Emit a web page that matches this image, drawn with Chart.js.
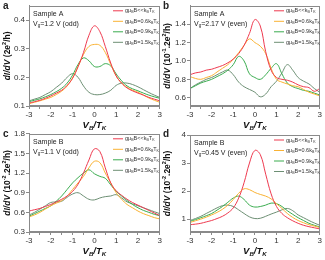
<!DOCTYPE html>
<html>
<head>
<meta charset="utf-8">
<script src="https://cdn.jsdelivr.net/npm/chart.js@4.4.1/dist/chart.umd.min.js"></script>
<style>
  html, body { margin: 0; padding: 0; background: #fff; }
  body { width: 325px; height: 260px; position: relative; overflow: hidden; }
  .panel { position: absolute; width: 163px; height: 130px; }
</style>
</head>
<body>
<div class="panel" style="left:0;top:0"><canvas id="ca"></canvas></div>
<div class="panel" style="left:160px;top:0"><canvas id="cb"></canvas></div>
<div class="panel" style="left:0;top:128px"><canvas id="cc"></canvas></div>
<div class="panel" style="left:160px;top:128px"><canvas id="cd"></canvas></div>
<script>
// bias voltage V_B/T_K, shared by every curve
const vb = [-3, -2.75, -2.5, -2.25, -2, -1.75, -1.5, -1.25, -1, -0.75, -0.5, -0.25, 0,
            0.25, 0.5, 0.75, 1, 1.25, 1.5, 1.75, 2, 2.25, 2.5, 2.75, 3];

// legend entries
const fields = ['<<', '=0.6', '=0.9', '=1.5'];
const colors = ['#ee3a4f', '#f9b234', '#3aac4f', '#6d8f74'];

// panel a: sample A, Vg = 1.2 V (odd), units 2e^2/h
const aLow  = [0.110,0.115,0.120,0.127,0.135,0.145,0.155,0.172,0.197,0.237,0.287,0.347,0.380,0.360,0.308,0.250,0.205,0.180,0.163,0.153,0.145,0.138,0.130,0.124,0.118];
const a06   = [0.108,0.113,0.118,0.124,0.130,0.140,0.152,0.170,0.198,0.238,0.280,0.308,0.315,0.312,0.287,0.245,0.205,0.180,0.165,0.155,0.148,0.138,0.128,0.120,0.113];
const a09   = [0.115,0.120,0.125,0.132,0.140,0.150,0.162,0.180,0.208,0.245,0.268,0.258,0.238,0.238,0.248,0.240,0.212,0.188,0.170,0.160,0.153,0.145,0.138,0.132,0.127];
const a15   = [0.118,0.124,0.130,0.140,0.150,0.165,0.180,0.200,0.213,0.200,0.170,0.148,0.140,0.140,0.145,0.155,0.172,0.180,0.180,0.175,0.167,0.157,0.147,0.138,0.130];

// panel b: sample A, Vg = 2.17 V (even), units 10^-1 2e^2/h
const bLow  = [0.85,0.87,0.88,0.90,0.91,0.93,0.95,0.98,1.02,1.08,1.17,1.30,1.45,1.38,1.10,0.90,0.82,0.80,0.79,0.77,0.74,0.72,0.71,0.67,0.70];
const b06   = [0.83,0.81,0.80,0.82,0.84,0.88,0.92,0.96,1.02,1.09,1.17,1.24,1.20,1.16,1.08,0.92,0.80,0.77,0.75,0.73,0.72,0.69,0.66,0.64,0.62];
const b09   = [0.70,0.73,0.76,0.78,0.80,0.83,0.86,0.90,0.96,1.05,1.00,0.86,0.82,0.80,0.85,0.92,0.97,0.86,0.76,0.72,0.70,0.68,0.67,0.65,0.63];
const b15   = [0.70,0.74,0.77,0.80,0.82,0.85,0.88,0.90,0.85,0.77,0.72,0.69,0.66,0.61,0.64,0.72,0.78,0.87,0.96,0.90,0.82,0.78,0.75,0.70,0.66];

// panel c: sample B, Vg = 1.1 V (odd), units 10^-2 2e^2/h
const cLow  = [0.62,0.64,0.66,0.69,0.72,0.76,0.80,0.85,0.92,1.03,1.20,1.40,1.57,1.53,1.28,1.05,0.93,0.86,0.80,0.75,0.71,0.67,0.63,0.59,0.55];
const c06   = [0.53,0.56,0.60,0.65,0.70,0.74,0.78,0.85,0.95,1.05,1.15,1.28,1.38,1.36,1.20,1.05,0.90,0.80,0.72,0.67,0.62,0.58,0.55,0.52,0.50];
const c09   = [0.54,0.58,0.62,0.66,0.70,0.77,0.85,0.95,1.05,1.13,1.20,1.25,1.19,1.15,1.12,1.02,0.92,0.85,0.78,0.72,0.67,0.63,0.60,0.57,0.55];
const c15   = [0.56,0.60,0.65,0.70,0.75,0.76,0.77,0.83,0.88,0.90,0.85,0.80,0.79,0.82,0.84,0.85,0.87,0.82,0.76,0.73,0.70,0.67,0.64,0.61,0.58];

// panel d: sample B, Vg = 0.45 V (even), units 10^-2 2e^2/h
const dLow  = [0.80,0.82,0.85,0.90,0.95,1.02,1.10,1.22,1.40,1.75,2.30,3.00,3.45,3.30,2.60,1.90,1.45,1.20,1.05,0.94,0.85,0.78,0.73,0.69,0.65];
const d06   = [0.88,0.94,1.00,1.07,1.15,1.24,1.35,1.50,1.70,1.92,2.08,2.05,1.95,1.88,1.82,1.72,1.55,1.38,1.20,1.06,0.95,0.87,0.80,0.75,0.70];
const d09   = [0.92,0.98,1.05,1.12,1.20,1.32,1.45,1.60,1.75,1.82,1.70,1.50,1.43,1.45,1.50,1.57,1.55,1.45,1.30,1.17,1.05,0.95,0.85,0.78,0.72];
const d15   = [0.95,1.02,1.10,1.20,1.30,1.40,1.48,1.50,1.45,1.33,1.20,1.08,1.02,1.03,1.10,1.18,1.25,1.33,1.38,1.30,1.15,1.05,0.95,0.86,0.78];

const FONT = '"Liberation Sans", Arial, sans-serif';

// draws a run of [text, kind, italic] pieces, kind: n | sub | sup
function rich(ctx, parts, x, y, size, weight, align) {
  const font = (s, it) => (it ? 'italic ' : '') + weight + ' ' + s + 'px ' + FONT;
  let w = 0;
  for (const [t, k, it] of parts) {
    ctx.font = font(k === 'n' ? size : size * 0.65, it);
    w += ctx.measureText(t).width;
  }
  let cx = align === 'center' ? x - w / 2 : x;
  for (const [t, k, it] of parts) {
    ctx.font = font(k === 'n' ? size : size * 0.65, it);
    const dy = k === 'sub' ? size * 0.3 : k === 'sup' ? -size * 0.4 : 0;
    ctx.fillText(t, cx, y + dy);
    cx += ctx.measureText(t).width;
  }
}

const deco = {
  id: 'deco',
  afterDraw(chart, args, o) {
    const ctx = chart.ctx, a = chart.chartArea;
    ctx.save();
    // box around the plot
    ctx.strokeStyle = '#8a8a8a';
    ctx.lineWidth = 1;
    ctx.strokeRect(Math.round(a.left) + 0.5, Math.round(a.top) + 0.5,
                   Math.round(a.right - a.left) - 1, Math.round(a.bottom - a.top) - 1);
    ctx.fillStyle = '#222';
    ctx.textBaseline = 'middle';
    // panel letter
    ctx.font = 'bold 10px ' + FONT;
    ctx.fillText(o.letter, 3, 6);
    // sample + gate voltage
    ctx.font = '7px ' + FONT;
    ctx.fillText(o.sample, a.left + 4, a.top + 8);
    rich(ctx, [['V', 'n'], ['g', 'sub'], ['=' + o.vg, 'n']], a.left + 4, a.top + 18, 7, 'normal', 'left');
    // legend
    fields.forEach((f, i) => {
      const y = a.top + 5 + i * 10.5;
      const x0 = a.left + 84;
      ctx.strokeStyle = colors[i];
      ctx.beginPath();
      ctx.moveTo(x0, y);
      ctx.lineTo(x0 + 10, y);
      ctx.stroke();
      ctx.fillStyle = '#333';
      rich(ctx, [['gμ', 'n'], ['B', 'sub'], ['B' + f + 'k', 'n'], ['B', 'sub'], ['T', 'n'], ['K', 'sub']],
           x0 + 12, y, 5.5, 'normal', 'left');
    });
    // y title
    ctx.fillStyle = '#111';
    ctx.save();
    ctx.translate(8, (a.top + a.bottom) / 2);
    ctx.rotate(-Math.PI / 2);
    rich(ctx, o.ytitle, 0, 0, 8.5, 'bold', 'center');
    ctx.restore();
    // x title
    rich(ctx, [['V', 'n', 1], ['B', 'sub', 1], ['/T', 'n', 1], ['K', 'sub', 1]],
         (a.left + a.right) / 2, a.bottom + 19, 9.5, 'bold', 'center');
    ctx.restore();
  }
};

function makePanel(id, series, ymin, ymax, yticks, opts) {
  const datasets = series.map((s, i) => ({
    data: s,
    borderColor: colors[i],
    borderWidth: 1,
    pointRadius: 0,
    tension: 0.4,
    fill: false
  }));
  new Chart(document.getElementById(id), {
    type: 'line',
    data: { labels: vb, datasets: datasets },
    options: {
      responsive: true,
      maintainAspectRatio: false,
      animation: false,
      layout: { padding: { top: opts.top, right: 2, left: 0, bottom: 0 } },
      plugins: { legend: { display: false }, tooltip: { enabled: false }, deco: opts },
      scales: {
        x: {
          type: 'linear',
          min: -3, max: 3,
          afterFit: s => { s.height = opts.xh; },
          afterBuildTicks: s => { s.ticks = [-3, -2.5, -2, -1.5, -1, -0.5, 0, 0.5, 1, 1.5, 2, 2.5, 3].map(v => ({ value: v })); },
          grid: { drawOnChartArea: false, tickLength: 3, color: '#8a8a8a' },
          border: { color: '#8a8a8a' },
          ticks: {
            padding: 1, color: '#333', font: { family: FONT, size: 8 },
            maxRotation: 0, minRotation: 0, autoSkip: false,
            callback: v => (Number.isInteger(v) ? v : '')
          }
        },
        y: {
          min: ymin, max: ymax,
          afterFit: s => { s.width = opts.yw; },
          afterBuildTicks: s => { s.ticks = yticks.map(v => ({ value: v })); },
          grid: { drawOnChartArea: false, tickLength: 3, color: '#8a8a8a' },
          border: { color: '#8a8a8a' },
          ticks: {
            padding: 1, color: '#333', font: { family: FONT, size: 8 },
            autoSkip: false,
            callback: v => v.toFixed(opts.dec)
          }
        }
      }
    },
    plugins: [deco]
  });
}

const dIdV = [['dI/dV', 'n', 1], [' (', 'n']];
makePanel('ca', [aLow, a06, a09, a15], 0.1, 0.45, [0.1, 0.2, 0.3, 0.4],
  { letter: 'a', sample: 'Sample A', vg: '1.2 V (odd)', top: 5, xh: 24, yw: 29, dec: 1,
    ytitle: dIdV.concat([['2e', 'n'], ['2', 'sup'], ['/h)', 'n']]) });
makePanel('cb', [bLow, b06, b09, b15], 0.51, 1.6, [0.6, 0.8, 1.0, 1.2, 1.4],
  { letter: 'b', sample: 'Sample A', vg: '2.17 V (even)', top: 5, xh: 24, yw: 30, dec: 1,
    ytitle: dIdV.concat([['10', 'n'], ['-1', 'sup'], ['.2e', 'n'], ['2', 'sup'], ['/h)', 'n']]) });
makePanel('cc', [cLow, c06, c09, c15], 0.3, 1.8, [0.3, 0.6, 0.9, 1.2, 1.5, 1.8],
  { letter: 'c', sample: 'Sample B', vg: '1.1 V (odd)', top: 5, xh: 26, yw: 29, dec: 1,
    ytitle: dIdV.concat([['10', 'n'], ['-2', 'sup'], ['.2e', 'n'], ['2', 'sup'], ['/h)', 'n']]) });
makePanel('cd', [dLow, d06, d09, d15], 0.54, 4, [1, 2, 3, 4],
  { letter: 'd', sample: 'Sample B', vg: '0.45 V (even)', top: 7, xh: 26, yw: 30, dec: 0,
    ytitle: dIdV.concat([['10', 'n'], ['-2', 'sup'], ['.2e', 'n'], ['2', 'sup'], ['/h)', 'n']]) });
</script>
</body>
</html>
